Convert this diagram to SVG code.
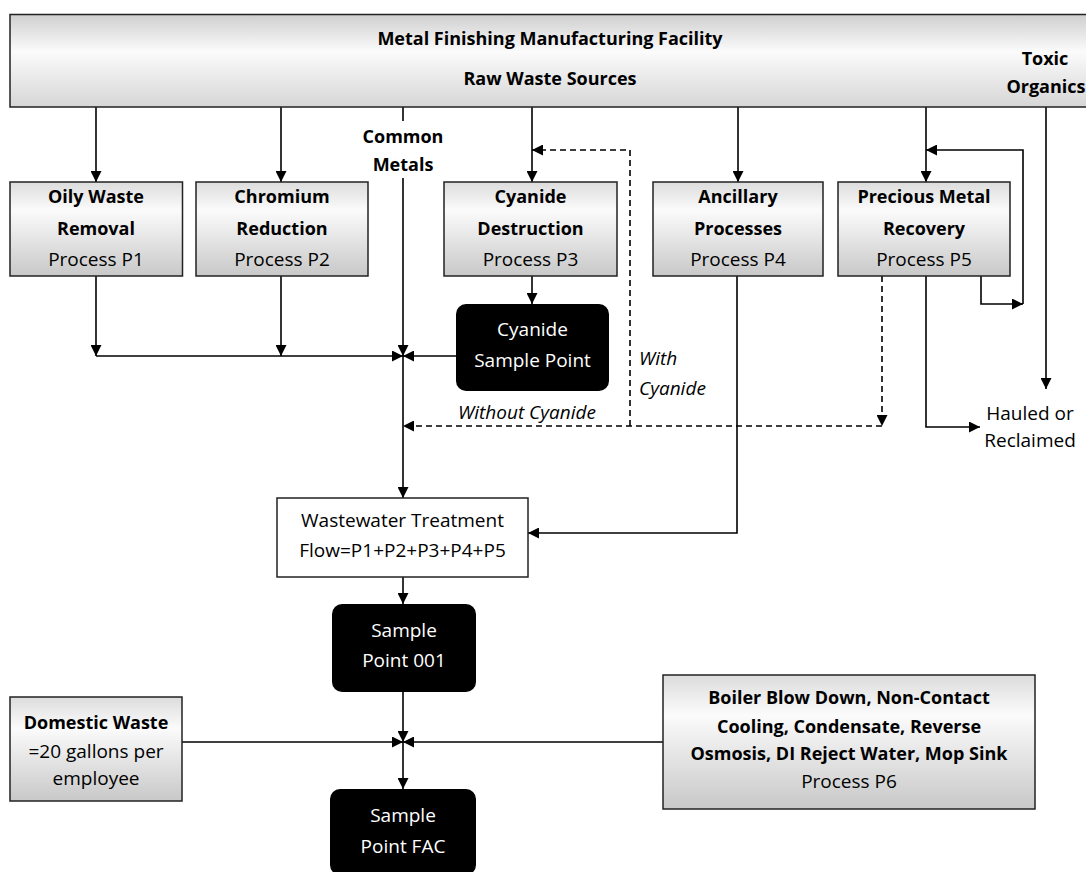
<svg xmlns="http://www.w3.org/2000/svg" width="1086" height="872" viewBox="0 0 1086 872">
<defs>
<linearGradient id="gBox" x1="0" y1="0" x2="0" y2="1">
<stop offset="0" stop-color="#dcdcdc"/><stop offset="0.3" stop-color="#fbfbfb"/><stop offset="1" stop-color="#c8c8c8"/>
</linearGradient>
<linearGradient id="gTop" x1="0" y1="0" x2="0" y2="1">
<stop offset="0" stop-color="#cfcfcf"/><stop offset="0.4" stop-color="#fbfbfb"/><stop offset="1" stop-color="#d6d6d6"/>
</linearGradient>
<marker id="ah" viewBox="0 0 11 11" refX="11" refY="5.5" markerWidth="11" markerHeight="11" markerUnits="userSpaceOnUse" orient="auto"><path d="M0,0 L11,5.5 L0,11 z" fill="#000"/></marker>
</defs>
<style>
.box{fill:url(#gBox);stroke:#222;stroke-width:1.5}
.topbox{fill:url(#gTop);stroke:#222;stroke-width:1.5}
.wbox{fill:#fff;stroke:#222;stroke-width:1.5}
.blk{fill:#000}
text{font-family:"Open Sans","DejaVu Sans",sans-serif;text-anchor:middle;fill:#000}
.b{font-weight:bold;font-size:18px}
.r{font-size:19px}
.i{font-size:19px;font-style:italic}
.w{fill:#fff}
.ln{fill:none;stroke:#000;stroke-width:1.6}
.ar{marker-end:url(#ah)}
.d{stroke-dasharray:6 4}
</style>
<g id="connectors">
<path class="ln ar" d="M96,107 V182"/>
<path class="ln ar" d="M281,107 V182"/>
<path class="ln" d="M403,107 V121"/>
<path class="ln ar" d="M403,178 V356"/>
<path class="ln ar" d="M403,356 V498"/>
<path class="ln ar" d="M532,107 V182"/>
<path class="ln ar" d="M738,107 V182"/>
<path class="ln ar" d="M926,107 V182"/>
<path class="ln ar" d="M1046,107 V389"/>
<path class="ln ar" d="M96,276 V356"/>
<path class="ln ar" d="M96,356 H403"/>
<path class="ln ar" d="M281,276 V356"/>
<path class="ln ar" d="M532,276 V304"/>
<path class="ln ar" d="M456,356 H403"/>
<path class="ln d ar" d="M630,426 V150 H532"/>
<path class="ln d ar" d="M882,276 V426"/>
<path class="ln d ar" d="M882,426 H403"/>
<path class="ln ar" d="M981,276 V304 H1023"/>
<path class="ln ar" d="M1023,304 V150 H926"/>
<path class="ln ar" d="M926,276 V427 H980"/>
<path class="ln ar" d="M737,276 V533 H528"/>
<path class="ln ar" d="M403,577 V604"/>
<path class="ln ar" d="M403,692 V742"/>
<path class="ln ar" d="M403,742 V789"/>
<path class="ln ar" d="M182,742 H403"/>
<path class="ln ar" d="M663,742 H403"/>
</g>
<g id="facility">
<rect class="topbox" x="10" y="14.5" width="1090" height="92.5"/>
<text class="b" x="550" y="45">Metal Finishing Manufacturing Facility</text>
<text class="b" x="550" y="85">Raw Waste Sources</text>
<text class="b" x="1045" y="65">Toxic</text>
<text class="b" x="1046" y="93">Organics</text>
</g>
<g id="common-metals">
<text class="b" x="403" y="143">Common</text>
<text class="b" x="403" y="171">Metals</text>
</g>
<g id="p1">
<rect class="box" x="10" y="182" width="172.5" height="94"/>
<text class="b" x="96" y="203">Oily Waste</text>
<text class="b" x="96" y="235">Removal</text>
<text class="r" x="96" y="266">Process P1</text>
</g>
<g id="p2">
<rect class="box" x="196" y="182" width="172" height="94"/>
<text class="b" x="282" y="203">Chromium</text>
<text class="b" x="282" y="235">Reduction</text>
<text class="r" x="282" y="266">Process P2</text>
</g>
<g id="p3">
<rect class="box" x="444" y="182" width="173" height="94"/>
<text class="b" x="530.5" y="203">Cyanide</text>
<text class="b" x="530.5" y="235">Destruction</text>
<text class="r" x="530.5" y="266">Process P3</text>
</g>
<g id="p4">
<rect class="box" x="653" y="182" width="170" height="94"/>
<text class="b" x="738" y="203">Ancillary</text>
<text class="b" x="738" y="235">Processes</text>
<text class="r" x="738" y="266">Process P4</text>
</g>
<g id="p5">
<rect class="box" x="838" y="182" width="172" height="94"/>
<text class="b" x="924" y="203">Precious Metal</text>
<text class="b" x="924" y="235">Recovery</text>
<text class="r" x="924" y="266">Process P5</text>
</g>
<g id="cyanide-sample">
<rect class="blk" x="456" y="304" width="153" height="87" rx="10"/>
<text class="r w" x="532.5" y="336">Cyanide</text>
<text class="r w" x="532.5" y="367">Sample Point</text>
</g>
<g id="labels">
<text class="i" x="639" y="365" style="text-anchor:start">With</text>
<text class="i" x="639" y="395" style="text-anchor:start">Cyanide</text>
<text class="i" x="527" y="419">Without Cyanide</text>
</g>
<g id="hauled">
<text class="r" x="1030" y="420">Hauled or</text>
<text class="r" x="1030" y="447">Reclaimed</text>
</g>
<g id="wwt">
<rect class="wbox" x="277" y="498" width="251" height="79"/>
<text class="r" x="402.5" y="527">Wastewater Treatment</text>
<text class="r" x="402.5" y="557">Flow=P1+P2+P3+P4+P5</text>
</g>
<g id="sp001">
<rect class="blk" x="332" y="604" width="144" height="88" rx="10"/>
<text class="r w" x="404" y="637">Sample</text>
<text class="r w" x="404" y="667">Point 001</text>
</g>
<g id="domestic">
<rect class="box" x="10" y="697" width="172" height="104"/>
<text class="b" x="96" y="729">Domestic Waste</text>
<text class="r" x="96" y="758">=20 gallons per</text>
<text class="r" x="96" y="785">employee</text>
</g>
<g id="p6">
<rect class="box" x="663" y="675" width="372" height="134"/>
<text class="b" x="849" y="704">Boiler Blow Down, Non-Contact</text>
<text class="b" x="849" y="733">Cooling, Condensate, Reverse</text>
<text class="b" x="849" y="760">Osmosis, DI Reject Water, Mop Sink</text>
<text class="r" x="849" y="788">Process P6</text>
</g>
<g id="spfac">
<rect class="blk" x="330" y="789" width="146" height="86" rx="10"/>
<text class="r w" x="403" y="822">Sample</text>
<text class="r w" x="403" y="853">Point FAC</text>
</g>
</svg>
